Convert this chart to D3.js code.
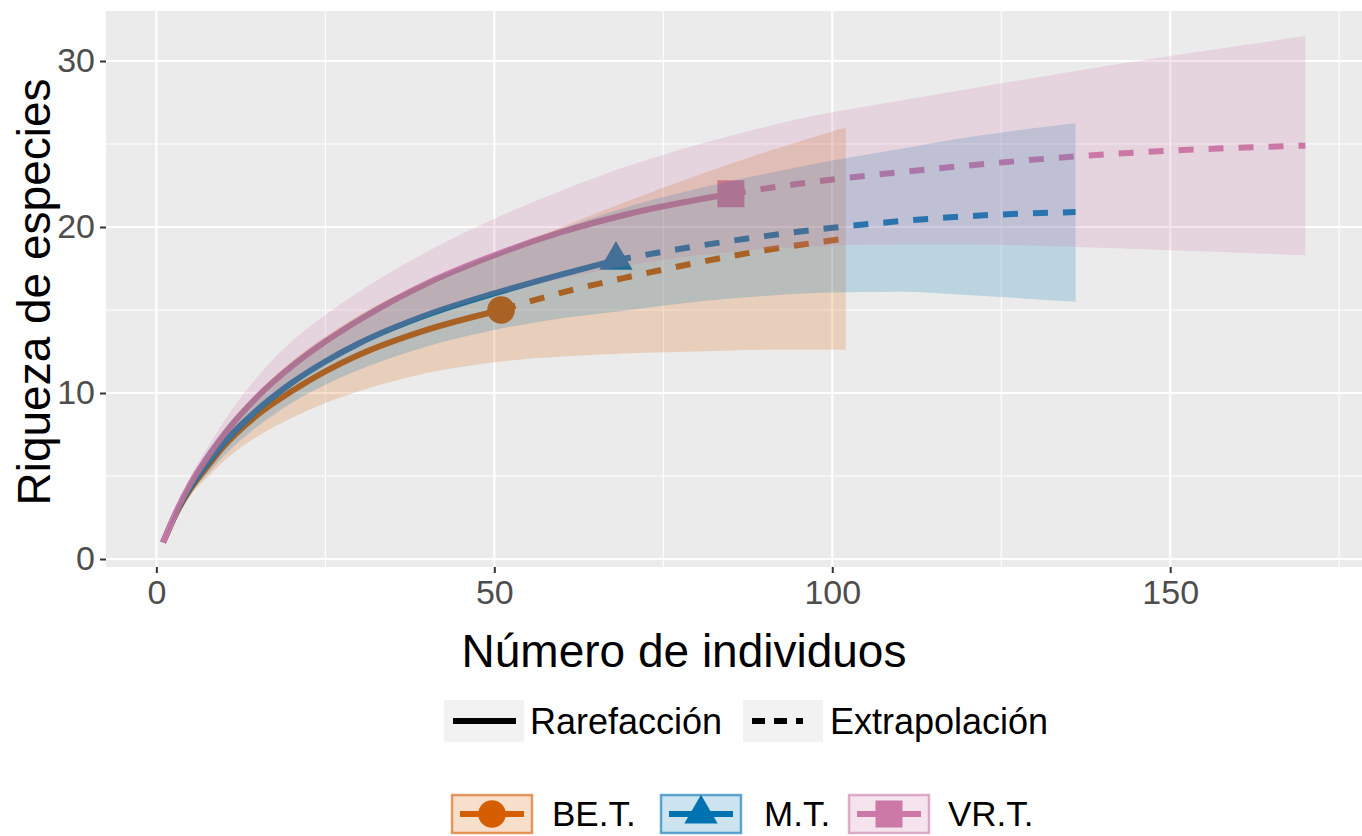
<!DOCTYPE html>
<html>
<head>
<meta charset="utf-8">
<script src="https://cdn.jsdelivr.net/npm/d3@7"></script>
<style>
  body { margin: 0; background: #fff; }
  svg { display: block; font-family: "Liberation Sans", Arial, sans-serif; }
</style>
</head>
<body>
<svg width="1362" height="836"></svg>
<script>
var svg = d3.select("svg");

var width = 1362,
    height = 836;

// sites and reference sample sizes (observed point)
var siteNames = ["BE.T.", "M.T.", "VR.T."];
var siteColors = ["#D55E00", "#0072B2", "#CC79A7"];
var refSize = [51, 68, 85];

// BE.T.
var beM  = [1, 3, 5, 8, 10, 15, 20, 25, 30, 40, 51, 60, 70, 80, 90, 102];
var beS  = [1, 2.8, 4.2, 5.8, 6.8, 8.7, 10.1, 11.3, 12.3, 13.8, 15, 16.05, 17.0, 17.85, 18.6, 19.3];
var beLo = [1, 2.6, 3.8, 5.1, 5.9, 7.4, 8.5, 9.4, 10.1, 11.2, 11.9, 12.2, 12.4, 12.5, 12.6, 12.6];
var beHi = [1, 3.0, 4.6, 6.5, 7.7, 10.0, 11.9, 13.4, 14.7, 16.7, 18.5, 20.0, 21.6, 23.1, 24.5, 26.0];

// M.T.
var mtM  = [1, 3, 5, 8, 10, 15, 20, 25, 30, 40, 50, 60, 68, 80, 90, 100, 110, 120, 136];
var mtS  = [1, 2.85, 4.3, 6.0, 7.0, 9.0, 10.6, 11.9, 13.0, 14.7, 16.0, 17.15, 18, 18.85, 19.45, 19.95, 20.35, 20.65, 20.9];
var mtLo = [1, 2.6, 3.9, 5.3, 6.2, 8.0, 9.4, 10.5, 11.4, 12.8, 13.8, 14.5, 14.9, 15.5, 15.85, 16.05, 16.1, 15.9, 15.5];
var mtHi = [1, 3.1, 4.7, 6.7, 7.8, 10.0, 11.8, 13.3, 14.6, 16.7, 18.4, 19.9, 21.0, 22.3, 23.2, 24.0, 24.7, 25.4, 26.25];

// VR.T.
var vrM  = [1, 3, 5, 8, 10, 15, 20, 25, 30, 40, 50, 60, 70, 85, 95, 110, 120, 136, 150, 170];
var vrS  = [1, 2.9, 4.5, 6.4, 7.5, 9.8, 11.6, 13.1, 14.4, 16.6, 18.3, 19.7, 20.8, 22, 22.6, 23.3, 23.7, 24.25, 24.6, 24.9];
var vrLo = [1, 2.7, 4.1, 5.8, 6.8, 8.8, 10.4, 11.7, 12.8, 14.6, 15.9, 16.9, 17.7, 18.5, 18.8, 18.95, 18.95, 18.8, 18.6, 18.3];
var vrHi = [1, 3.1, 4.9, 7.0, 8.3, 11.0, 13.1, 14.7, 16.1, 18.5, 20.5, 22.2, 23.7, 25.5, 26.5, 27.6, 28.3, 29.4, 30.3, 31.5];

var xTicks = [0, 50, 100, 150];
var yTicks = [0, 10, 20, 30];
var xMinor = [25, 75, 125, 175];
var yMinor = [5, 15, 25];
var methodNames = ["Rarefacción", "Extrapolación"];

var allM = [beM, mtM, vrM],
    allS = [beS, mtS, vrS],
    allLo = [beLo, mtLo, vrLo],
    allHi = [beHi, mtHi, vrHi];

var sites = siteNames.map(function (name, i) {
    var pts = allM[i].map(function (m, j) {
        return { m: m, qD: allS[i][j], lo: allLo[i][j], hi: allHi[i][j] };
    });
    return {
        name: name,
        color: siteColors[i],
        ref: pts.filter(function (d) { return d.m === refSize[i]; })[0],
        points: pts,
        rare: pts.filter(function (d) { return d.m <= refSize[i]; }),
        extra: pts.filter(function (d) { return d.m >= refSize[i]; })
    };
});

// panel
var panel = { left: 106, right: 1362, top: 11, bottom: 567 };

var x = d3.scaleLinear().domain([-7.45, 178.45]).range([panel.left, 1362.5]);
var y = d3.scaleLinear().domain([-0.5, 33.0]).range([567.3, 11.2]);

svg.append("rect")
    .attr("x", panel.left).attr("y", panel.top)
    .attr("width", panel.right - panel.left)
    .attr("height", panel.bottom - panel.top)
    .attr("fill", "#EBEBEB");

var grid = svg.append("g");

grid.selectAll(".xminor").data(xMinor).enter().append("line")
    .attr("x1", function (d) { return x(d); }).attr("x2", function (d) { return x(d); })
    .attr("y1", panel.top).attr("y2", panel.bottom)
    .attr("stroke", "#fff").attr("stroke-width", 1.1);
grid.selectAll(".yminor").data(yMinor).enter().append("line")
    .attr("y1", function (d) { return y(d); }).attr("y2", function (d) { return y(d); })
    .attr("x1", panel.left).attr("x2", panel.right)
    .attr("stroke", "#fff").attr("stroke-width", 1.1);
grid.selectAll(".xmajor").data(xTicks).enter().append("line")
    .attr("x1", function (d) { return x(d); }).attr("x2", function (d) { return x(d); })
    .attr("y1", panel.top).attr("y2", panel.bottom)
    .attr("stroke", "#fff").attr("stroke-width", 2.2);
grid.selectAll(".ymajor").data(yTicks).enter().append("line")
    .attr("y1", function (d) { return y(d); }).attr("y2", function (d) { return y(d); })
    .attr("x1", panel.left).attr("x2", panel.right)
    .attr("stroke", "#fff").attr("stroke-width", 2.2);

var line = d3.line()
    .x(function (d) { return x(d.m); })
    .y(function (d) { return y(d.qD); })
    .curve(d3.curveMonotoneX);

var area = d3.area()
    .x(function (d) { return x(d.m); })
    .y0(function (d) { return y(d.lo); })
    .y1(function (d) { return y(d.hi); })
    .curve(d3.curveMonotoneX);

var symbolTypes = [d3.symbolCircle, d3.symbolTriangle, d3.symbolSquare];
var symbolSizes = [600, 480, 730];

// points and lines first, ribbons drawn on top (as ggiNEXT does)
var plot = svg.append("g");
sites.forEach(function (s, i) {
    plot.append("path")
        .attr("d", d3.symbol().type(symbolTypes[i]).size(symbolSizes[i])())
        .attr("transform", "translate(" + x(s.ref.m) + "," + y(s.ref.qD) + ")")
        .attr("fill", s.color);
});
sites.forEach(function (s) {
    plot.append("path")
        .attr("d", line(s.rare))
        .attr("fill", "none")
        .attr("stroke", s.color)
        .attr("stroke-width", 6);
    plot.append("path")
        .attr("d", line(s.extra))
        .attr("fill", "none")
        .attr("stroke", s.color)
        .attr("stroke-width", 6)
        .attr("stroke-dasharray", "15,15");
});
sites.forEach(function (s) {
    plot.append("path")
        .attr("d", area(s.points))
        .attr("fill", s.color)
        .attr("fill-opacity", 0.2);
});

// axes
var xAxis = svg.append("g")
    .attr("transform", "translate(0," + panel.bottom + ")")
    .call(d3.axisBottom(x).tickValues(xTicks).tickSize(6).tickPadding(5));
var yAxis = svg.append("g")
    .attr("transform", "translate(" + panel.left + ",0)")
    .call(d3.axisLeft(y).tickValues(yTicks).tickSize(6).tickPadding(5));

[xAxis, yAxis].forEach(function (ax) {
    ax.select(".domain").remove();
    ax.selectAll(".tick line").attr("stroke", "#333").attr("stroke-width", 2);
    ax.selectAll(".tick text")
        .attr("fill", "#4D4D4D")
        .style("font-size", "34px")
        .style("font-family", "'Liberation Sans', Arial, sans-serif");
});
xAxis.selectAll(".tick text").attr("dy", "0.75em");

svg.append("text")
    .attr("x", 684).attr("y", 667)
    .attr("text-anchor", "middle")
    .style("font-size", "46px")
    .text("Número de individuos");

svg.append("text")
    .attr("transform", "translate(50,292) rotate(-90)")
    .attr("text-anchor", "middle")
    .style("font-size", "46px")
    .text("Riqueza de especies");

// legend: method (line type)
var lg1 = svg.append("g");
var methodKeyX = [444, 743];
var methodTextX = [530, 830];
methodNames.forEach(function (name, i) {
    var kx = methodKeyX[i];
    lg1.append("rect")
        .attr("x", kx).attr("y", 700).attr("width", 80).attr("height", 42)
        .attr("fill", "#F2F2F2");
    lg1.append("line")
        .attr("x1", kx + 9).attr("x2", i === 0 ? kx + 72 : kx + 60)
        .attr("y1", 721).attr("y2", 721)
        .attr("stroke", "#000").attr("stroke-width", 6)
        .attr("stroke-dasharray", i === 0 ? null : "13,9");
    lg1.append("text")
        .attr("x", methodTextX[i]).attr("y", 734)
        .style("font-size", "36px")
        .text(name);
});

// legend: sites
var lg2 = svg.append("g");
var siteKeyX = [452, 661, 849];
var siteTextX = [552, 764, 948];
sites.forEach(function (s, i) {
    var kx = siteKeyX[i];
    lg2.append("rect")
        .attr("x", kx).attr("y", 795).attr("width", 80).attr("height", 38)
        .attr("fill", s.color).attr("fill-opacity", 0.2)
        .attr("stroke", s.color).attr("stroke-opacity", 0.6).attr("stroke-width", 2.5);
    lg2.append("line")
        .attr("x1", kx + 8).attr("x2", kx + 72)
        .attr("y1", 814).attr("y2", 814)
        .attr("stroke", s.color).attr("stroke-width", 6);
    lg2.append("path")
        .attr("d", d3.symbol().type(symbolTypes[i]).size(symbolSizes[i])())
        .attr("transform", "translate(" + (kx + 40) + ",814)")
        .attr("fill", s.color);
    lg2.append("text")
        .attr("x", siteTextX[i]).attr("y", 826)
        .style("font-size", "35px")
        .text(s.name);
});
</script>
</body>
</html>
